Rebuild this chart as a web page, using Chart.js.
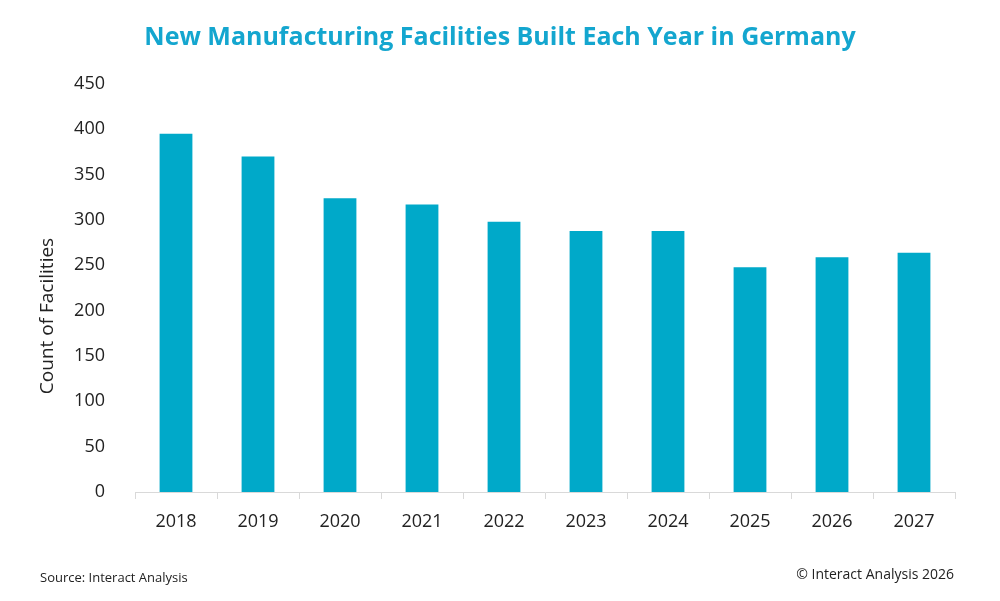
<!DOCTYPE html>
<html>
<head>
<meta charset="utf-8">
<script src="https://cdn.jsdelivr.net/npm/chart.js@4.4.1/dist/chart.umd.min.js"></script>
<style>
  html, body { margin: 0; padding: 0; background: #ffffff; }
  #wrap { width: 1000px; height: 601px; position: relative; }
</style>
</head>
<body>
<div id="wrap"><canvas id="facilities-chart"></canvas></div>
<script>
// Chart data
const YEARS = ['2018', '2019', '2020', '2021', '2022', '2023', '2024', '2025', '2026', '2027'];
const FACILITIES = [395, 370, 324, 317, 298, 288, 288, 248, 259, 264];

const TITLE = 'New Manufacturing Facilities Built Each Year in Germany';
const Y_TITLE = 'Count of Facilities';
const SOURCE = 'Source: Interact Analysis';
const COPYRIGHT = '\u00A9 Interact Analysis 2026';

const FONT = "'Open Sans', sans-serif";
const TEXT_COLOR = '#222222';
const BAR_COLOR = '#00a9c9';
const TITLE_COLOR = '#14a6cf';

// Draws title, rotated axis label and footer texts
const textPlugin = {
  id: 'extraText',
  afterDraw(chart) {
    const ctx = chart.ctx;
    ctx.save();
    ctx.fillStyle = TITLE_COLOR;
    ctx.font = `bold 25px ${FONT}`;
    ctx.textAlign = 'center';
    ctx.textBaseline = 'middle';
    ctx.fillText(TITLE, 500, 38);

    ctx.fillStyle = TEXT_COLOR;
    ctx.font = `19px ${FONT}`;
    ctx.translate(48, 316);
    ctx.rotate(-Math.PI / 2);
    ctx.fillText(Y_TITLE, 0, 0);
    ctx.restore();

    ctx.save();
    ctx.fillStyle = TEXT_COLOR;
    ctx.textBaseline = 'middle';
    ctx.font = `13px ${FONT}`;
    ctx.textAlign = 'left';
    ctx.fillText(SOURCE, 40, 578);
    ctx.font = `14px ${FONT}`;
    ctx.textAlign = 'right';
    ctx.fillText(COPYRIGHT, 954, 575);
    ctx.restore();
  }
};

new Chart(document.getElementById('facilities-chart'), {
  type: 'bar',
  data: {
    labels: YEARS,
    datasets: [{
      label: 'Facilities',
      data: FACILITIES,
      backgroundColor: BAR_COLOR,
      barPercentage: 0.4,
      categoryPercentage: 1.0
    }]
  },
  options: {
    responsive: true,
    maintainAspectRatio: false,
    animation: false,
    layout: {
      padding: { top: 84, right: 45, bottom: 0, left: 0 }
    },
    plugins: {
      legend: { display: false },
      tooltip: { enabled: false }
    },
    scales: {
      x: {
        offset: true,
        grid: {
          display: true,
          drawOnChartArea: false,
          offset: true,
          tickLength: 7,
          color: '#d9d9d9'
        },
        border: { display: true, color: '#d9d9d9' },
        ticks: {
          color: TEXT_COLOR,
          font: { family: FONT, size: 18 },
          padding: 12
        },
        afterFit(axis) { axis.height = 109; }
      },
      y: {
        min: 0,
        max: 450,
        grid: { display: false },
        border: { display: false },
        ticks: {
          stepSize: 50,
          color: TEXT_COLOR,
          font: { family: FONT, size: 18 },
          padding: 22
        },
        afterFit(axis) { axis.width = 135; }
      }
    }
  },
  plugins: [textPlugin]
});
</script>
</body>
</html>
